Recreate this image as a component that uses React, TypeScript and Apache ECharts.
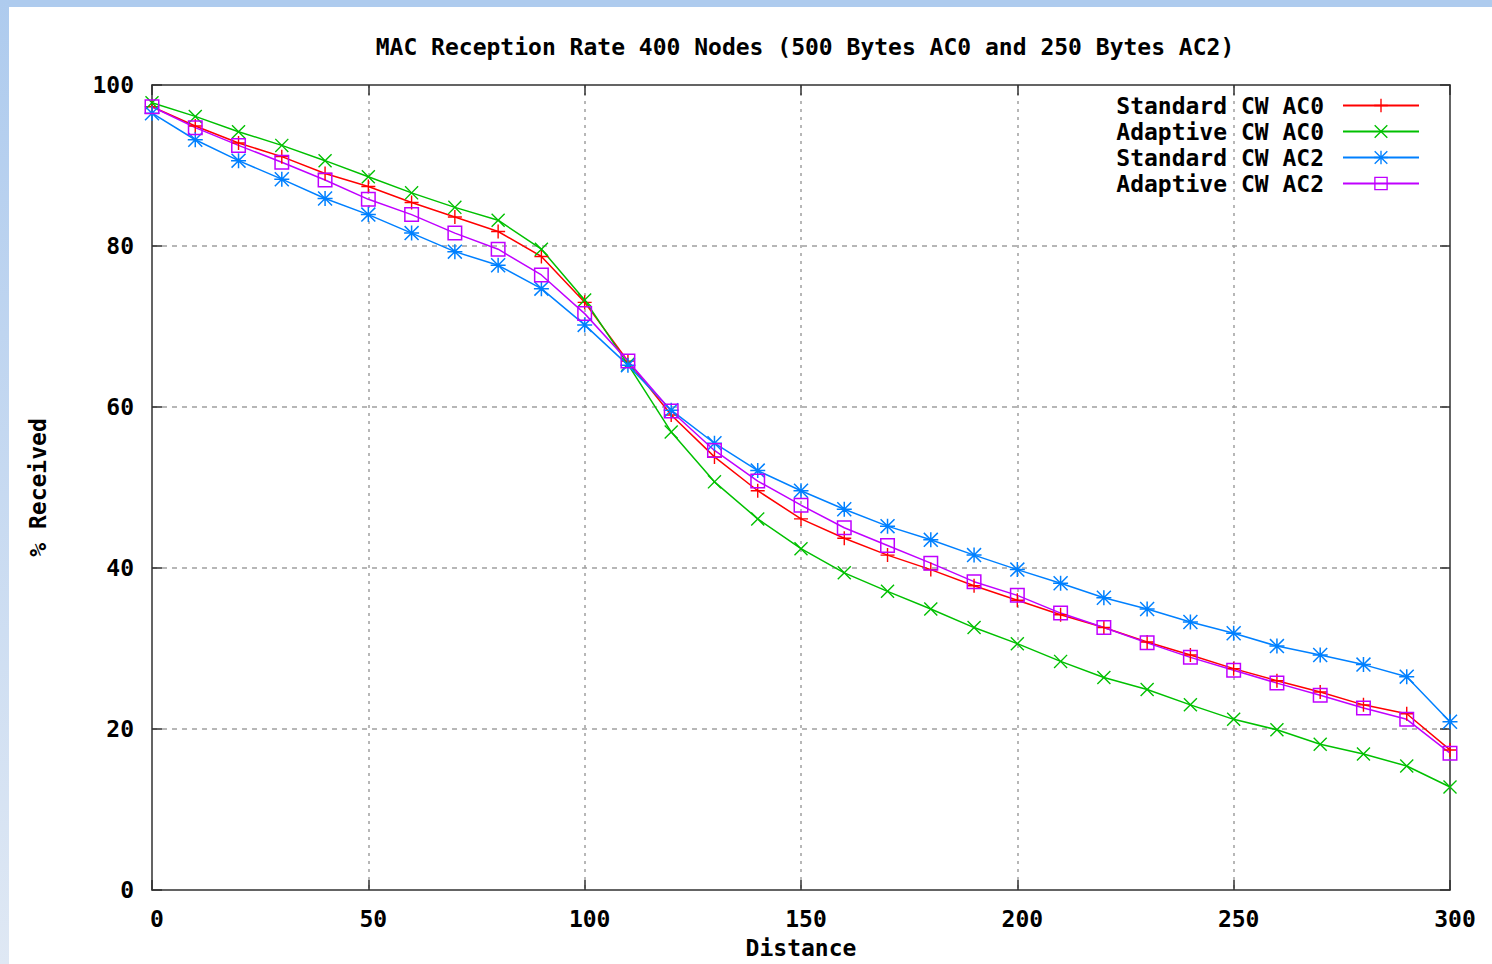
import React, { useEffect, useRef } from "react";
import * as echarts from "echarts";

// Distance (x) sample points
const distance = [
  0, 10, 20, 30, 40, 50, 60, 70, 80, 90, 100, 110, 120, 130, 140, 150, 160, 170,
  180, 190, 200, 210, 220, 230, 240, 250, 260, 270, 280, 290, 300,
];

// % received per series
const standardAC0 = [
  97.3, 94.9, 92.8, 91.1, 89.0, 87.4, 85.4, 83.6, 81.8, 78.7, 73.0, 65.7, 59.0,
  53.8, 49.6, 46.1, 43.7, 41.6, 39.8, 37.8, 36.0, 34.2, 32.6, 30.8, 29.2, 27.5,
  26.0, 24.6, 23.0, 21.9, 17.4,
];
const adaptiveAC0 = [
  97.8, 96.1, 94.2, 92.5, 90.6, 88.6, 86.6, 84.8, 83.2, 79.6, 73.3, 65.3, 56.9,
  50.7, 46.1, 42.4, 39.4, 37.1, 34.9, 32.6, 30.6, 28.4, 26.4, 24.9, 23.0, 21.2,
  19.9, 18.1, 16.9, 15.4, 12.8,
];
const standardAC2 = [
  96.5, 93.2, 90.6, 88.3, 85.9, 83.9, 81.6, 79.3, 77.6, 74.7, 70.2, 65.2, 59.6,
  55.5, 52.1, 49.6, 47.3, 45.2, 43.5, 41.6, 39.8, 38.1, 36.3, 34.9, 33.3, 31.9,
  30.3, 29.2, 28.0, 26.5, 20.9,
];
const adaptiveAC2 = [
  97.3, 94.7, 92.5, 90.4, 88.2, 85.8, 83.9, 81.6, 79.6, 76.4, 71.6, 65.7, 59.5,
  54.6, 50.8, 47.8, 45.0, 42.8, 40.6, 38.3, 36.6, 34.4, 32.6, 30.7, 28.9, 27.3,
  25.7, 24.2, 22.6, 21.2, 17.0,
];

const seriesNames = [
  "Standard CW AC0",
  "Adaptive CW AC0",
  "Standard CW AC2",
  "Adaptive CW AC2",
];
const seriesValues = [standardAC0, adaptiveAC0, standardAC2, adaptiveAC2];
const seriesColors = ["#ff0000", "#00c000", "#0080ff", "#c000ff"];

const titleText = "MAC Reception Rate 400 Nodes (500 Bytes AC0 and 250 Bytes AC2)";

// Point markers drawn as filled outlines so the line shows through them
const PLUS = "path://M9,0H11V9H20V11H11V20H9V11H0V9H9Z";
const CROSS =
  "path://M0,1.4L1.4,0L10,8.6L18.6,0L20,1.4L11.4,10L20,18.6L18.6,20L10,11.4L1.4,20L0,18.6L8.6,10Z";
const STAR =
  "path://M9,0H11V9H20V11H11V20H9V11H0V9H9Z M0,1.4L1.4,0L10,8.6L18.6,0L20,1.4L11.4,10L20,18.6L18.6,20L10,11.4L1.4,20L0,18.6L8.6,10Z";
const BOX = "path://M0,0H20V20H0Z M2,2V18H18V2Z";
const markers = [PLUS, CROSS, STAR, BOX];
const markerSizes = [14, 14, 15, 15];

const FONT = "'DejaVu Sans Mono', 'Liberation Mono', monospace";
const textBase = {
  fontFamily: FONT,
  fontWeight: "bold" as const,
  fontSize: 23,
  color: "#000",
};
const frame = { color: "#303030", width: 1.5 };

export default function App() {
  const ref = useRef<HTMLDivElement>(null);

  useEffect(() => {
    if (!ref.current) return;
    const chart = echarts.init(ref.current, null, { renderer: "svg" });

    const series = seriesNames.map((name, i) => ({
      name,
      type: "line",
      xAxisIndex: 0,
      yAxisIndex: 0,
      data: distance.map((d, j) => [d, seriesValues[i][j]]),
      symbol: markers[i],
      symbolSize: markerSizes[i],
      showAllSymbol: true,
      itemStyle: { color: seriesColors[i], borderWidth: 0 },
      lineStyle: { color: seriesColors[i], width: 1.5 },
      emphasis: { disabled: true },
    }));

    // Border axes (top / right) carry only the mirrored inside ticks
    const mirrorAxis = {
      type: "value",
      axisLine: { show: true, onZero: false, lineStyle: frame },
      axisTick: { show: true, inside: true, length: 10, lineStyle: frame },
      axisLabel: { show: false },
      splitLine: { show: false },
    };

    chart.setOption({
      animation: false,
      backgroundColor: "#ffffff",
      title: {
        text: titleText,
        left: 800,
        top: 30,
        textAlign: "center",
        textStyle: textBase,
      },
      graphic: [
        {
          type: "rect",
          silent: true,
          z: -1,
          shape: { x: 0, y: 0, width: 1492, height: 7 },
          style: { fill: "#aecbee" },
        },
        {
          type: "rect",
          silent: true,
          z: -1,
          shape: { x: 0, y: 0, width: 9, height: 964 },
          style: {
            fill: new echarts.graphic.LinearGradient(0, 0, 0, 1, [
              { offset: 0, color: "#aecbee" },
              { offset: 1, color: "#dfe8f4" },
            ]),
          },
        },
      ],
      legend: {
        orient: "vertical",
        right: 67,
        top: 89,
        align: "right",
        itemWidth: 76,
        itemHeight: 17,
        itemGap: 3,
        selectedMode: false,
        data: seriesNames,
        textStyle: { ...textBase, lineHeight: 23, padding: [0, 14, 0, 0] },
      },
      grid: {
        left: 152,
        right: 42,
        top: 85,
        bottom: 74,
        containLabel: false,
        outerBoundsMode: "none",
      },
      xAxis: [
        {
          type: "value",
          position: "bottom",
          min: 0,
          max: 300,
          interval: 50,
          name: "Distance",
          nameLocation: "middle",
          nameGap: 46,
          nameTextStyle: textBase,
          axisLine: { show: true, onZero: false, lineStyle: frame },
          axisTick: { show: true, inside: true, length: 10, lineStyle: frame },
          axisLabel: { ...textBase, margin: 17, padding: [0, 0, 0, 10] },
          splitLine: {
            show: true,
            showMinLine: false,
            showMaxLine: false,
            lineStyle: { color: "#a0a0a0", type: [3, 5], width: 1.5 },
          },
        },
        { ...mirrorAxis, position: "top", min: 0, max: 300, interval: 50 },
      ],
      yAxis: [
        {
          type: "value",
          position: "left",
          min: 0,
          max: 100,
          interval: 20,
          name: "% Received",
          nameLocation: "middle",
          nameRotate: 90,
          nameGap: 103,
          nameTextStyle: textBase,
          axisLine: { show: true, onZero: false, lineStyle: frame },
          axisTick: { show: true, inside: true, length: 10, lineStyle: frame },
          axisLabel: { ...textBase, margin: 18 },
          splitLine: {
            show: true,
            showMinLine: false,
            showMaxLine: false,
            lineStyle: { color: "#a0a0a0", type: [5, 5], width: 1.5 },
          },
        },
        { ...mirrorAxis, position: "right", min: 0, max: 100, interval: 20 },
      ],
      series,
    });

    return () => chart.dispose();
  }, []);

  return (
    <div
      ref={ref}
      style={{ position: "fixed", left: 0, top: 0, width: 1492, height: 964 }}
    />
  );
}
